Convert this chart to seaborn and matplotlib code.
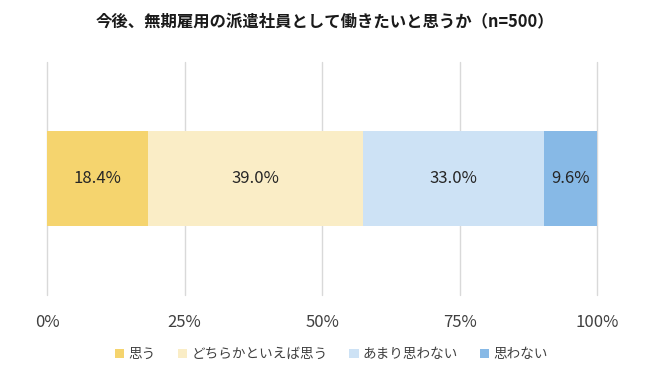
import matplotlib
matplotlib.use("Agg")
import matplotlib.pyplot as plt
import seaborn as sns
import numpy as np
import pandas as pd
from matplotlib.patches import Patch

categories = ["思う", "どちらかといえば思う", "あまり思わない", "思わない"]
values = [18.4, 39.0, 33.0, 9.6]
colors = ["#F5D46E", "#FAEDC6", "#CDE2F5", "#87B9E6"]
tick_vals = [0, 25, 50, 75, 100]
tick_labels = ["0%", "25%", "50%", "75%", "100%"]
title = "今後、無期雇用の派遣社員として働きたいと思うか（n=500）"

sns.set_theme(style="white")
plt.rcParams['font.family'] = ['Noto Sans CJK JP', 'DejaVu Sans']

fig = plt.figure(figsize=(6.5, 3.9), dpi=100)
ax = fig.add_axes([0.0723, 0.244, 0.8462, 0.597])

cum = np.cumsum(values)
# draw cumulative bars from the longest to the shortest so they stack visually
for i in range(len(values) - 1, -1, -1):
    df = pd.DataFrame({"y": ["all"], "x": [cum[i]]})
    sns.barplot(data=df, x="x", y="y", color=colors[i], orient="h",
                width=0.41, ax=ax, saturation=1, linewidth=0, zorder=2)

starts = cum - np.array(values)
for s, v in zip(starts, values):
    ax.text(s + v / 2, 0, f"{v:.1f}%", ha="center", va="center",
            fontsize=12, color="#262626", zorder=3)

ax.set_xlim(0, 100)
ax.set_ylim(0.5, -0.5)
ax.set_xticks(tick_vals)
ax.set_xticklabels(tick_labels, fontsize=12, color="#404040")
ax.set_yticks([])
ax.set_xlabel("")
ax.set_ylabel("")
ax.tick_params(axis="x", length=0, pad=14)
for x in tick_vals:
    ax.axvline(x, color="#D9D9D9", linewidth=1, zorder=1, clip_on=False)
for sp in ax.spines.values():
    sp.set_visible(False)

fig.text(0.5, 0.943, title, ha="center", va="center", fontsize=11.8,
         fontweight="bold", color="#1a1a1a")

handles = [Patch(facecolor=c, edgecolor="none") for c in colors]
fig.legend(handles, categories, loc="center", bbox_to_anchor=(0.51, 0.092),
           ncol=4, frameon=False, fontsize=9.8, handlelength=0.7,
           handleheight=0.7, handletextpad=0.3, columnspacing=1.6,
           labelcolor="#404040")

fig.savefig("out.png", dpi=100)
